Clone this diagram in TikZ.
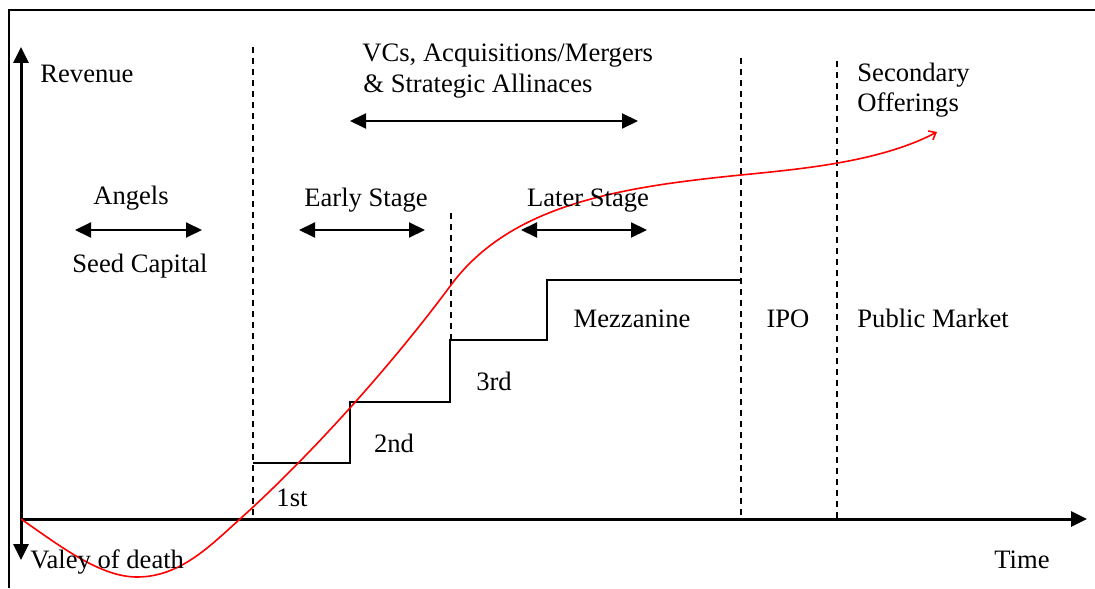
\documentclass[tikz,border=0pt]{standalone}
\usepackage{fontspec}
\setmainfont{Liberation Serif}
\usetikzlibrary{arrows.meta}

\begin{document}
\begin{tikzpicture}[>={Triangle[length=8pt,width=7.5pt]}, x=0.5pt, y=-0.5pt,
  font=\fontsize{13.3}{15}\selectfont,
  phase/.style={dash pattern=on 3pt off 2.5pt, line width=0.9pt},
  span/.style={<->, line width=1pt},
  lbl/.style={inner sep=0pt, anchor=base}]
  \useasboundingbox (0,0) rectangle (1095,588);
  % ---------------------------------------------------------------- frame and axes
  \draw[line width=1pt] (9,588) -- (9,10) -- (1095,10);
  \coordinate (origin) at (21,519);
  \coordinate (revtop) at (21,47);
  \coordinate (revbot) at (21,560);
  \coordinate (timeend) at (1087,519);
  \draw[<->, line width=1.5pt] (revtop) -- (revbot);
  \draw[->, line width=1.5pt] (origin) -- (timeend);
  % ---------------------------------------------------------------- phase boundaries
  \draw[phase] (253,47) -- (253,519);
  \draw[phase] (451,213) -- (451,340);
  \draw[phase] (741,58) -- (741,519);
  \draw[phase] (837,61) -- (837,519);
  % ---------------------------------------------------------------- funding rounds
  \draw[line width=0.7pt] (253,463) -| (350,402) -| (450,340) -| (547,280) -- (741,280);
  % ---------------------------------------------------------------- revenue curve
  \draw[red, line width=0.8pt, -{Straight Barb[length=3pt,width=5pt]}]
    (origin) .. controls (60,546) and (100,577) .. (137,577)
    .. controls (180,577) and (210,546) .. (240,519)
    .. controls (310,456) and (391,366) .. (451,285)
    .. controls (511,204) and (621,187) .. (741,175)
    .. controls (801,169) and (880,162) .. (937,132);
  % ---------------------------------------------------------------- labels
  \node[lbl, anchor=base west] (revenue) at (40,83) {Revenue};
  \node[lbl, anchor=base west] (vcs) at (362,62) {VCs, Acquisitions/Mergers};
  \node[lbl, anchor=base west] (alliances) at (363,93) {\& Strategic Allinaces};
  \node[lbl, anchor=base west] (secondary) at (857,82) {Secondary};
  \node[lbl, anchor=base west] (offerings) at (857,112) {Offerings};
  \node[lbl] (angels) at (131,205) {Angels};
  \node[lbl] (seed) at (140,272) {Seed Capital};
  \node[lbl] (early) at (366,206) {Early Stage};
  \node[lbl] (later) at (588,206) {Later Stage};
  \node[lbl] (mezz) at (632,327) {Mezzanine};
  \node[lbl] (ipo) at (788,327) {IPO};
  \node[lbl, anchor=base west] (public) at (857,327) {Public Market};
  \node[lbl] (third) at (494,390) {3rd};
  \node[lbl] (second) at (394,452) {2nd};
  \node[lbl] (first) at (292,506) {1st};
  \node[lbl, anchor=base west] (valley) at (30,568) {Valey of death};
  \node[lbl] (time) at (1022,568) {Time};
  % ---------------------------------------------------------------- stage spans
  \coordinate (vcsL) at (350,121);   \coordinate (vcsR) at (638,121);
  \coordinate (angL) at (75,230);    \coordinate (angR) at (202,230);
  \coordinate (earlyL) at (299,230); \coordinate (earlyR) at (425,230);
  \coordinate (laterL) at (521,230); \coordinate (laterR) at (647,230);
  \draw[span] (vcsL) -- (vcsR);
  \draw[span] (angL) -- (angR);
  \draw[span] (earlyL) -- (earlyR);
  \draw[span] (laterL) -- (laterR);
\end{tikzpicture}
\end{document}
